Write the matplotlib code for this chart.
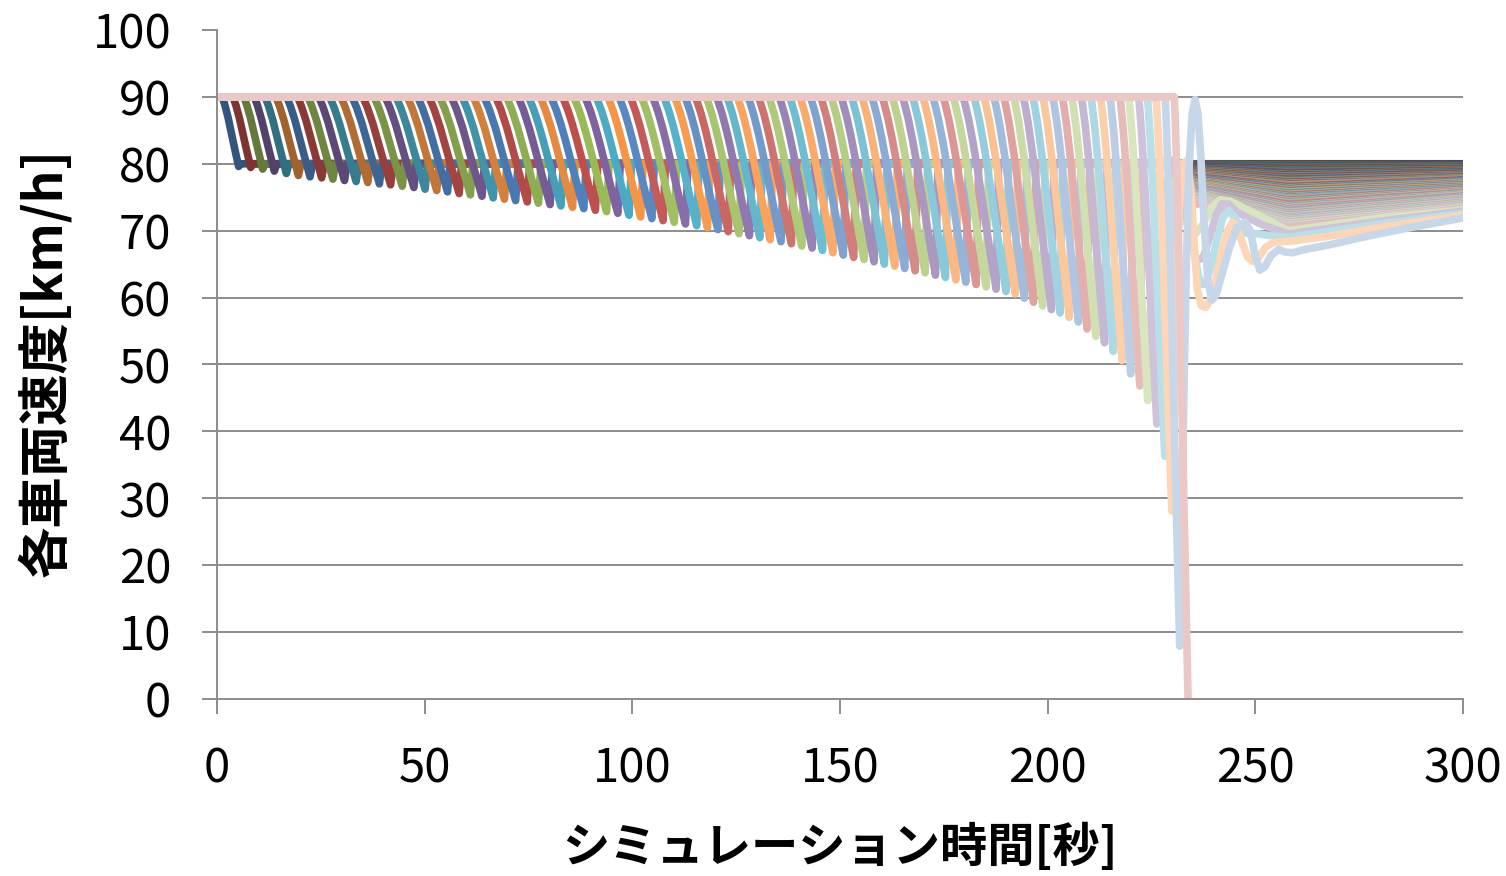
import matplotlib
matplotlib.use("Agg")
import matplotlib.pyplot as plt
from matplotlib.path import Path
from matplotlib.patches import PathPatch
from matplotlib.colors import to_rgb

plt.rcParams['font.family'] = ['Noto Sans CJK JP', 'DejaVu Sans']

# time [s] at which each vehicle reaches its lowest speed
dip_time = [5.2, 8.1, 11.0, 13.8, 16.7, 19.6, 22.4, 25.2, 27.9, 30.7,
            33.5, 36.3, 39.1, 41.8, 44.6, 47.4, 50.1, 52.9, 55.5, 58.3,
            61.0, 63.8, 66.5, 69.2, 71.9, 74.7, 77.4, 80.2, 82.8, 85.6,
            88.3, 91.1, 93.8, 96.5, 99.2, 102.0, 104.7, 107.4, 110.1, 112.8,
            115.5, 118.1, 120.6, 123.1, 125.7, 128.2, 130.7, 133.2, 135.8, 138.3,
            140.8, 143.3, 145.8, 148.3, 150.8, 153.3, 155.8, 158.2, 160.7, 163.2,
            165.6, 168.1, 170.5, 173.0, 175.4, 177.9, 180.3, 182.8, 185.2, 187.6,
            190.0, 192.2, 194.4, 196.6, 198.8, 200.9, 203.0, 205.2, 207.4, 209.5,
            211.6, 213.7, 215.8, 217.9, 220.0, 222.2, 224.1, 226.3, 228.2, 229.9,
            231.8, 233.8]

# lowest speed reached [km/h]
dip_min = [79.6, 79.45, 79.2, 78.9, 78.55, 78.25, 78.05, 77.9, 77.7, 77.5,
           77.35, 77.2, 77.0, 76.85, 76.65, 76.45, 76.2, 76.0, 75.8, 75.55,
           75.35, 75.15, 74.9, 74.7, 74.5, 74.3, 74.1, 73.9, 73.7, 73.5,
           73.3, 73.05, 72.85, 72.6, 72.3, 72.05, 71.8, 71.5, 71.25, 71.0,
           70.75, 70.45, 70.15, 69.85, 69.55, 69.25, 68.95, 68.65, 68.35, 68.05,
           67.7, 67.4, 67.05, 66.7, 66.35, 66.0, 65.7, 65.35, 65.0, 64.7,
           64.35, 64.0, 63.7, 63.35, 63.0, 62.65, 62.3, 61.95, 61.6, 61.25,
           60.9, 60.55, 59.9, 59.3, 58.75, 58.2, 57.7, 57.05, 56.35, 55.3,
           54.2, 53.25, 51.95, 50.6, 48.6, 46.8, 44.6, 41.1, 36.3, 28.1,
           7.9, 0.3]

# how long the braking from 90 km/h lasts [s]
dip_len = [4.0, 4.3, 4.6, 4.9, 5.2, 5.5, 5.7, 5.9, 6.1, 6.3,
           6.5, 6.6, 6.7, 6.8, 6.9, 7.0, 7.1, 7.2, 7.3, 7.4,
           7.5, 7.5, 7.6, 7.6, 7.7, 7.7, 7.8, 7.8, 7.9, 7.9,
           8.0, 8.0, 8.0, 8.0, 8.0, 8.0, 8.0, 8.0, 8.0, 8.0,
           8.0, 8.0, 8.0, 8.0, 8.0, 8.0, 8.0, 8.0, 8.0, 8.0,
           8.0, 8.0, 8.0, 8.0, 8.0, 8.0, 8.0, 8.0, 8.0, 8.0,
           8.0, 8.0, 8.0, 8.0, 8.0, 8.0, 8.0, 8.0, 8.0, 8.0,
           7.8, 7.6, 7.4, 7.2, 7.0, 6.8, 6.6, 6.4, 6.2, 6.0,
           5.8, 5.6, 5.4, 5.2, 5.0, 4.8, 4.6, 4.4, 4.2, 3.8,
           3.5, 3.3]

hold_speed = 80.0

# ordinary vehicles after the crash: speed at 238.5 s, 258 s and 300 s
fan_start = [80.0, 79.9, 79.9, 79.8, 79.7, 79.6, 79.6, 79.5, 79.4, 79.4,
             79.3, 79.2, 79.2, 79.1, 79.0, 78.9, 78.9, 78.8, 78.7, 78.7,
             78.6, 78.5, 78.4, 78.4, 78.3, 78.2, 78.2, 78.1, 78.0, 78.0,
             77.9, 77.8, 77.7, 77.7, 77.6, 77.5, 77.5, 77.4, 77.3, 77.2,
             77.2, 77.1, 77.0, 77.0, 76.9, 76.8, 76.8, 76.7, 76.6, 76.5,
             76.5, 76.4, 76.3, 76.3, 76.2, 76.1, 76.0, 76.0, 75.9, 75.8,
             75.8, 75.7, 75.6, 75.6, 75.5, 75.4, 75.3, 75.3, 75.2, 75.1,
             75.1, 75.0, 74.9, 74.8, 74.8, 74.7, 74.6, 74.6, 74.5, 74.4,
             74.4, 74.3, 74.2, 74.1, 74.1, 74.0]
fan_mid = [80.0, 79.9, 79.8, 79.7, 79.6, 79.4, 79.3, 79.2, 79.1, 79.0,
           78.9, 78.8, 78.7, 78.5, 78.4, 78.3, 78.2, 78.1, 78.0, 77.9,
           77.8, 77.7, 77.5, 77.4, 77.3, 77.2, 77.1, 77.0, 76.9, 76.8,
           76.6, 76.5, 76.4, 76.3, 76.2, 76.1, 76.0, 75.9, 75.8, 75.6,
           75.5, 75.4, 75.3, 75.2, 75.1, 75.0, 74.9, 74.7, 74.6, 74.5,
           74.4, 74.3, 74.2, 74.1, 74.0, 73.9, 73.7, 73.6, 73.5, 73.4,
           73.3, 73.2, 73.1, 73.0, 72.8, 72.7, 72.6, 72.5, 72.4, 72.3,
           72.2, 72.1, 72.0, 71.8, 71.7, 71.6, 71.5, 71.4, 71.3, 71.2,
           71.1, 70.9, 70.8, 70.7, 70.6, 70.5]
fan_end = [80.0, 79.9, 79.8, 79.8, 79.7, 79.6, 79.5, 79.4, 79.4, 79.3,
           79.2, 79.1, 79.0, 79.0, 78.9, 78.8, 78.7, 78.6, 78.6, 78.5,
           78.4, 78.3, 78.2, 78.2, 78.1, 78.0, 77.9, 77.8, 77.8, 77.7,
           77.6, 77.5, 77.4, 77.4, 77.3, 77.2, 77.1, 77.0, 77.0, 76.9,
           76.8, 76.7, 76.6, 76.6, 76.5, 76.4, 76.3, 76.2, 76.2, 76.1,
           76.0, 75.9, 75.8, 75.8, 75.7, 75.6, 75.5, 75.4, 75.4, 75.3,
           75.2, 75.1, 75.0, 75.0, 74.9, 74.8, 74.7, 74.6, 74.6, 74.5,
           74.4, 74.3, 74.2, 74.2, 74.1, 74.0, 73.9, 73.8, 73.8, 73.7,
           73.6, 73.5, 73.4, 73.4, 73.3, 73.2]

# recovery of the last vehicles after their braking (t [s], v [km/h])
after_86 = [(224.8, 58), (225.6, 70), (226.6, 78), (228.0, 80.5), (229.5, 79.5),
            (231.5, 75.5), (233.5, 71), (235.5, 69.5), (237.5, 71), (239.5, 73.5),
            (241.5, 74.6), (244.0, 74.4), (250.0, 72.5), (258.0, 70.0), (280.0, 71.9),
            (300.0, 73.1)]
after_87 = [(227.0, 55), (227.8, 68), (228.8, 77), (230.0, 80.5), (231.5, 79),
            (233.0, 74), (234.5, 68.5), (236.0, 65.5), (237.5, 66), (239.0, 69),
            (240.5, 72.3), (242.0, 74), (243.5, 74), (245.5, 72.8), (248.0, 72.0),
            (252.0, 70.8), (258.0, 69.5), (280.0, 71.4), (300.0, 72.9)]
after_88 = [(229.0, 52), (229.8, 66), (230.8, 76), (232.0, 80), (233.2, 78),
            (234.4, 72), (235.6, 65.5), (236.8, 62), (238.0, 62), (239.3, 64.5),
            (240.7, 68.5), (242.2, 72), (243.6, 73), (245.0, 72), (246.5, 70.3),
            (248.0, 69.6), (250.0, 69.6), (253.0, 69.3), (258.0, 69.0), (280.0, 71.0),
            (300.0, 72.6)]
after_89 = [(230.4, 45), (231.0, 62), (231.8, 74), (232.7, 80), (233.6, 80.5),
            (234.5, 76), (235.3, 68), (236.1, 61), (237.0, 58.8), (238.0, 58.5),
            (239.0, 59.5), (240.3, 62), (241.8, 66.5), (243.3, 70), (244.6, 71.3),
            (245.8, 70.3), (247.0, 68), (248.2, 66), (249.4, 65.4), (250.8, 66),
            (252.5, 67.5), (254.5, 68.3), (258.0, 68.4), (268.0, 69.2), (280.0, 70.5),
            (300.0, 72.3)]
after_90 = [(232.3, 25), (232.8, 45), (233.4, 65), (234.1, 80), (234.8, 87.5),
            (235.5, 89.6), (236.2, 87.5), (236.9, 81), (237.7, 71), (238.6, 62.5),
            (239.5, 59.6), (240.5, 60.3), (242.0, 63.5), (243.8, 67.5), (245.6, 70.4),
            (247.5, 71.3), (248.8, 70), (249.9, 66.5), (251.1, 64.1), (252.3, 64.6),
            (253.8, 66.3), (255.6, 67.2), (257.2, 66.8), (259.0, 66.7), (262.0, 67.2),
            (268.0, 67.9), (275.0, 68.9), (285.0, 70.2), (300.0, 71.9)]
after_late = {86: after_86, 87: after_87, 88: after_88, 89: after_89, 90: after_90}

accents = ['#4F81BD', '#C0504D', '#9BBB59', '#8064A2', '#4BACC6', '#F79646']


def series_color(i, n):
    # office style: accent colours repeat, each round a little lighter
    cycles = (n + 5) // 6
    f = -0.35 + 1.03 * (i // 6) / (cycles - 1)
    r, g, b = to_rgb(accents[i % 6])
    if f < 0:
        return (r * (1 + f), g * (1 + f), b * (1 + f))
    return (r + (1 - r) * f, g + (1 - g) * f, b + (1 - b) * f)


fig = plt.figure(figsize=(15.06, 8.76), dpi=100)
ax = fig.add_axes([0.1441, 0.2021, 0.8273, 0.7637])

for y in range(10, 100, 10):
    ax.axhline(y, color='#8c8c8c', lw=1.4, zorder=0)

n = len(dip_time)
for i in range(n):
    t1, d, vmin = dip_time[i], dip_len[i], dip_min[i]
    t0 = t1 - d
    drop = 90.0 - vmin
    # braking drawn as a nearly straight cubic, slightly eased at the top
    verts = [(0, 90.0), (t0, 90.0),
             (t0 + 0.3 * d, 90.0 - 0.15 * drop), (t1 - 0.3 * d, vmin + 0.3 * drop), (t1, vmin)]
    codes = [Path.MOVETO, Path.LINETO, Path.CURVE4, Path.CURVE4, Path.CURVE4]
    if i < len(fan_start):
        verts += [(t1 + 0.6, hold_speed), (233.0, hold_speed), (235.0, fan_start[i]),
                  (238.5, fan_start[i]), (258.0, fan_mid[i]), (300.0, fan_end[i])]
    elif i in after_late:
        verts += after_late[i]
    codes += [Path.LINETO] * (len(verts) - len(codes))
    ax.add_patch(PathPatch(Path(verts, codes), fill=False, edgecolor=series_color(i, n),
                           lw=5.5, capstyle='round', joinstyle='round', zorder=2))

ax.set_xlim(0, 300)
ax.set_ylim(0, 100)
ax.set_xticks(range(0, 301, 50))
ax.set_yticks(range(0, 101, 10))
for side in ['top', 'right']:
    ax.spines[side].set_visible(False)
for side in ['left', 'bottom']:
    ax.spines[side].set_color('#8c8c8c')
    ax.spines[side].set_linewidth(1.4)
    ax.spines[side].set_zorder(3)
ax.tick_params(axis='both', direction='out', length=11, width=1.4, color='#8c8c8c',
               labelsize=34)
ax.tick_params(axis='y', pad=22)
ax.tick_params(axis='x', pad=22)

fig.text(0.5578, 0.032, 'シミュレーション時間[秒]', ha='center', va='center',
         fontsize=34, fontweight='bold')
fig.text(0.030, 0.586, '各車両速度[km/h]', rotation=90, ha='center', va='center',
         fontsize=37, fontweight='bold')

fig.savefig('out.png', dpi=100)
